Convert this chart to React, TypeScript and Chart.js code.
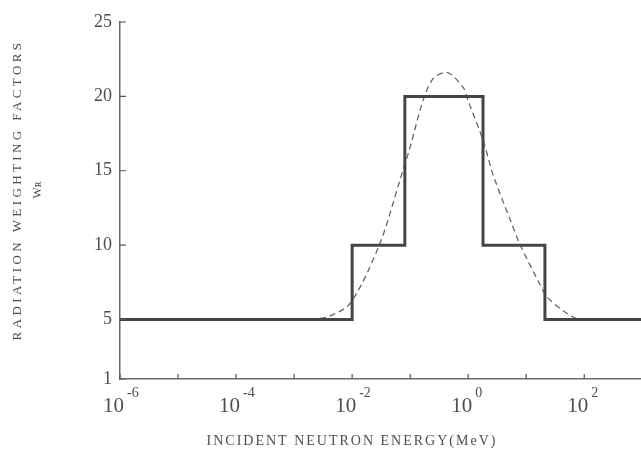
import React, { useEffect, useRef } from "react";
import { Chart, registerables } from "chart.js";

Chart.register(...registerables);

// Step function (MeV, weighting factor)
const stepEnergy = [1e-6, 0.01, 0.081, 1.8, 21, 950];
const stepW = [5, 10, 20, 10, 5, 5];

// Smooth (dashed) curve
const curveEnergy = [1e-6, 1e-4, 1e-3, 0.002, 0.0037, 0.0093, 0.03, 0.067, 0.1, 0.166, 0.25, 0.44, 0.82, 1.0, 1.82, 2.7, 5.3, 7.9, 17, 23, 51, 85, 950];
const curveW = [5, 5, 5, 5.05, 5.16, 6.1, 10.1, 14.4, 16.6, 19.7, 21.2, 21.6, 20.6, 19.7, 17.0, 14.7, 11.7, 10.0, 7.4, 6.5, 5.4, 5.0, 5.0];

// Axis ticks
const xTickValues = [1e-6, 1e-5, 1e-4, 1e-3, 1e-2, 1e-1, 1, 10, 100];
const xTickBase = ["10", "", "10", "", "10", "", "10", "", "10"];
const xTickExponent = ["-6", "", "-4", "", "-2", "", "0", "", "2"];
const yTickValues = [1, 5, 10, 15, 20, 25];

const xTitle = "INCIDENT NEUTRON ENERGY(MeV)";
const yTitle = "RADIATION WEIGHTING FACTORS";
const yTitle2 = "W\u0280";

const FONT = "'Liberation Serif', 'DejaVu Serif', serif";
const INK = "#4d4d4d";

const decorPlugin = {
  id: "decor",
  afterDraw(chart: any) {
    const ctx = chart.ctx;
    const area = chart.chartArea;
    const xs = chart.scales.x;
    const ys = chart.scales.y;
    ctx.save();
    // inward tick marks
    ctx.strokeStyle = "#555";
    ctx.lineWidth = 1.2;
    ctx.beginPath();
    xTickValues.forEach((v) => {
      const px = xs.getPixelForValue(v);
      ctx.moveTo(px, area.bottom);
      ctx.lineTo(px, area.bottom - 5);
    });
    yTickValues.forEach((v) => {
      const py = ys.getPixelForValue(v);
      ctx.moveTo(area.left, py);
      ctx.lineTo(area.left + 6, py);
    });
    ctx.stroke();

    // x tick labels: base "10" with raised exponent
    ctx.fillStyle = INK;
    ctx.textBaseline = "alphabetic";
    xTickValues.forEach((v, i) => {
      if (!xTickBase[i]) return;
      const px = xs.getPixelForValue(v);
      ctx.font = `21px ${FONT}`;
      ctx.textAlign = "right";
      ctx.fillText(xTickBase[i], px + 4, area.bottom + 33);
      ctx.font = `14px ${FONT}`;
      ctx.textAlign = "left";
      ctx.fillText(xTickExponent[i], px + 7, area.bottom + 18);
    });

    // titles
    ctx.textAlign = "center";
    ctx.textBaseline = "middle";
    ctx.font = `14px ${FONT}`;
    (ctx as any).letterSpacing = "2px";
    ctx.fillText(xTitle, 352, 441);

    ctx.translate(18, 190);
    ctx.rotate(-Math.PI / 2);
    ctx.font = `13px ${FONT}`;
    (ctx as any).letterSpacing = "3.4px";
    ctx.fillText(yTitle, 0, 0);
    ctx.font = `12px ${FONT}`;
    (ctx as any).letterSpacing = "0px";
    ctx.fillText(yTitle2, 0, 20);
    ctx.restore();
  },
};

export default function App() {
  const ref = useRef<HTMLCanvasElement>(null);
  useEffect(() => {
    if (!ref.current) return;
    const chart = new Chart(ref.current, {
      type: "line",
      data: {
        datasets: [
          {
            label: "step",
            data: stepEnergy.map((e, i) => ({ x: e, y: stepW[i] })),
            stepped: "before",
            borderColor: "#454545",
            borderWidth: 3,
            pointRadius: 0,
            fill: false,
          },
          {
            label: "curve",
            data: curveEnergy.map((e, i) => ({ x: e, y: curveW[i] })),
            tension: 0.3,
            borderColor: "#666",
            borderWidth: 1.3,
            borderDash: [6, 4],
            pointRadius: 0,
            fill: false,
          },
        ],
      },
      options: {
        responsive: false,
        animation: false,
        events: [],
        layout: { padding: { top: 22, left: 0, right: 0, bottom: 0 } },
        plugins: { legend: { display: false }, tooltip: { enabled: false } },
        scales: {
          x: {
            type: "logarithmic",
            min: 1e-6,
            max: 950,
            afterBuildTicks: (s: any) => {
              s.ticks = xTickValues.map((v) => ({ value: v }));
            },
            afterFit: (s: any) => {
              s.height = 77;
            },
            ticks: { display: false },
            grid: { drawOnChartArea: false, drawTicks: false },
            border: { display: true, color: "#6a6a6a", width: 1.5, dash: [2, 1] },
          },
          y: {
            min: 1,
            max: 25,
            afterBuildTicks: (s: any) => {
              s.ticks = yTickValues.map((v) => ({ value: v }));
            },
            afterFit: (s: any) => {
              s.width = 120;
            },
            ticks: {
              padding: 8,
              color: INK,
              font: { family: FONT, size: 18 },
            },
            grid: { drawOnChartArea: false, drawTicks: false },
            border: { display: true, color: "#6a6a6a", width: 1.5, dash: [2, 1] },
          },
        },
      },
      plugins: [decorPlugin],
    } as any);
    return () => chart.destroy();
  }, []);
  return (
    <div style={{ position: "fixed", left: 0, top: 0, width: 641, height: 456, background: "#fff" }}>
      <canvas ref={ref} width={641} height={456} />
    </div>
  );
}
